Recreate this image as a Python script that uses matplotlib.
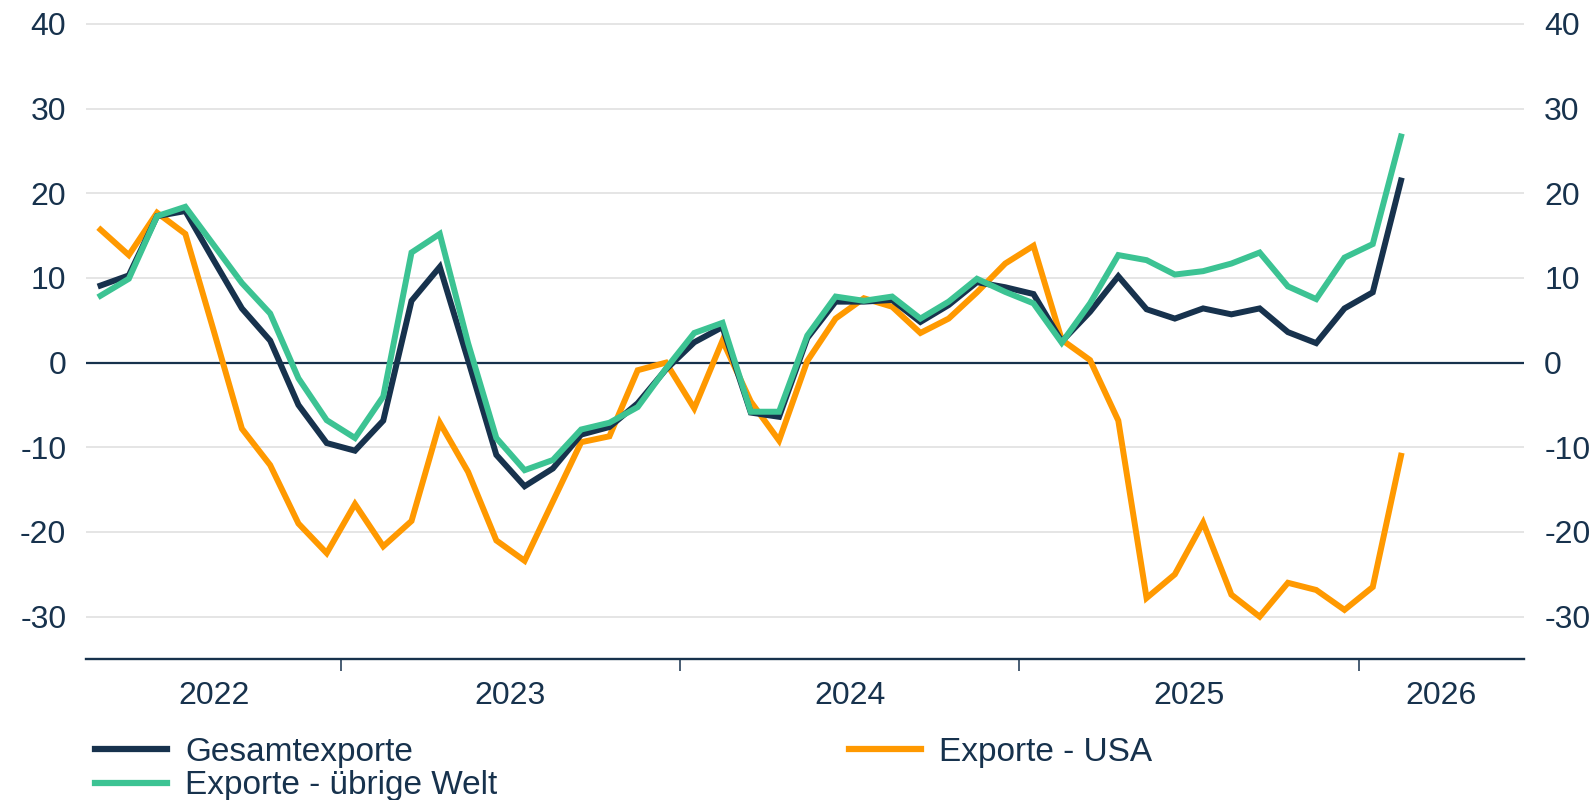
import matplotlib.pyplot as plt
import numpy as np
import pandas as pd

# Monthly values, April 2022 to February 2026
months = pd.period_range("2022-04", "2026-02", freq="M")

gesamt = [9.1, 10.3, 17.3, 17.9, 12.1, 6.4, 2.6, -5.0, -9.5, -10.4, -6.85, 7.3,
          11.3, 0.3, -10.9, -14.6, -12.5, -8.5, -7.6, -4.8, -0.8, 2.4, 4.2, -5.9,
          -6.4, 2.9, 7.2, 7.2, 7.4, 4.8, 6.8, 9.5, 8.9, 8.1, 2.5, 6.0,
          10.2, 6.3, 5.2, 6.4, 5.7, 6.4, 3.6, 2.3, 6.4, 8.3, 21.5]
uebrige = [7.9, 9.9, 17.3, 18.4, 13.9, 9.4, 5.8, -1.85, -6.8, -8.9, -4.0, 13.0,
           15.2, 2.3, -8.9, -12.7, -11.5, -7.9, -7.1, -5.25, -0.7, 3.5, 4.7, -5.8,
           -5.8, 3.2, 7.8, 7.3, 7.8, 5.2, 7.2, 9.9, 8.35, 7.0, 2.35, 7.0,
           12.7, 12.1, 10.4, 10.8, 11.7, 13.0, 9.0, 7.5, 12.4, 14.0, 26.7]
usa = [15.7, 12.7, 17.7, 15.2, 3.8, -7.8, -12.1, -19.0, -22.5, -16.7, -21.7, -18.7,
       -7.1, -12.9, -21.0, -23.4, -16.4, -9.4, -8.7, -0.9, 0.0, -5.4, 2.6, -4.6,
       -9.2, 0.2, 5.2, 7.6, 6.6, 3.5, 5.2, 8.3, 11.7, 13.8, 2.7, 0.3,
       -6.85, -27.8, -25.0, -18.9, -27.4, -30.0, -26.0, -26.85, -29.2, -26.5, -11.0]

labels = ["Gesamtexporte", "Exporte - übrige Welt", "Exporte - USA"]
years = ["2022", "2023", "2024", "2025", "2026"]
y_ticks = [-30, -20, -10, 0, 10, 20, 30, 40]

navy = "#17324D"
green = "#3CC393"
orange = "#FF9900"

plt.rcParams["font.family"] = ["Liberation Sans", "DejaVu Sans"]
plt.rcParams["axes.unicode_minus"] = False

# month index since April 2022, points at mid-month
x = np.array([(p.year - 2022) * 12 + p.month - 4 for p in months]) + 0.5
year_bounds = [9, 21, 33, 45]
x_max = 50.85
year_centers = [4.5, 15, 27, 39, (45 + x_max) / 2]

fig = plt.figure(figsize=(15.93, 8.0), dpi=100)
ax = fig.add_axes([86.4 / 1593, 1 - 659.0 / 800, (1524 - 86.4) / 1593, (659.0 - 22.2) / 800])

for v in y_ticks:
    if v != 0:
        ax.axhline(v, color="#E3E3E3", lw=1.3, zorder=0)
ax.axhline(0, color=navy, lw=1.6, zorder=1)

lw = 4.3
l_usa, = ax.plot(x, usa, color=orange, lw=lw, zorder=2, solid_joinstyle="miter")
l_ges, = ax.plot(x, gesamt, color=navy, lw=lw, zorder=3, solid_joinstyle="miter")
l_ueb, = ax.plot(x, uebrige, color=green, lw=lw, zorder=4, solid_joinstyle="miter")

ax.set_xlim(0, x_max)
ax.set_ylim(-35, 40.2)

for s in ["top", "left", "right"]:
    ax.spines[s].set_visible(False)
ax.spines["bottom"].set_color(navy)
ax.spines["bottom"].set_linewidth(1.7)

ax.set_xticks(year_bounds)
ax.set_xticklabels([])
ax.set_xticks(year_centers, minor=True)
ax.set_xticklabels(years, minor=True)
ax.tick_params(axis="x", which="major", length=8.6, width=1.1, color=navy, direction="out")
ax.tick_params(axis="x", which="minor", length=0, pad=16, labelsize=23, labelcolor=navy)

ax.set_yticks(y_ticks)
ax.tick_params(axis="y", length=0, labelsize=23, labelcolor=navy, pad=14.5,
               labelleft=True, labelright=True)

leg = fig.legend([l_ges, l_ueb, l_usa], labels, ncol=2, loc="upper left",
                 bbox_to_anchor=(95 / 1593, 1 - 737 / 800), frameon=False,
                 fontsize=24, handlelength=2.15, handletextpad=0.55,
                 columnspacing=10.56, labelspacing=0.07, borderpad=0, borderaxespad=0)
for t in leg.get_texts():
    t.set_color(navy)
for h in leg.get_lines():
    h.set_linewidth(4.5)

fig.savefig("out.png", dpi=100)
